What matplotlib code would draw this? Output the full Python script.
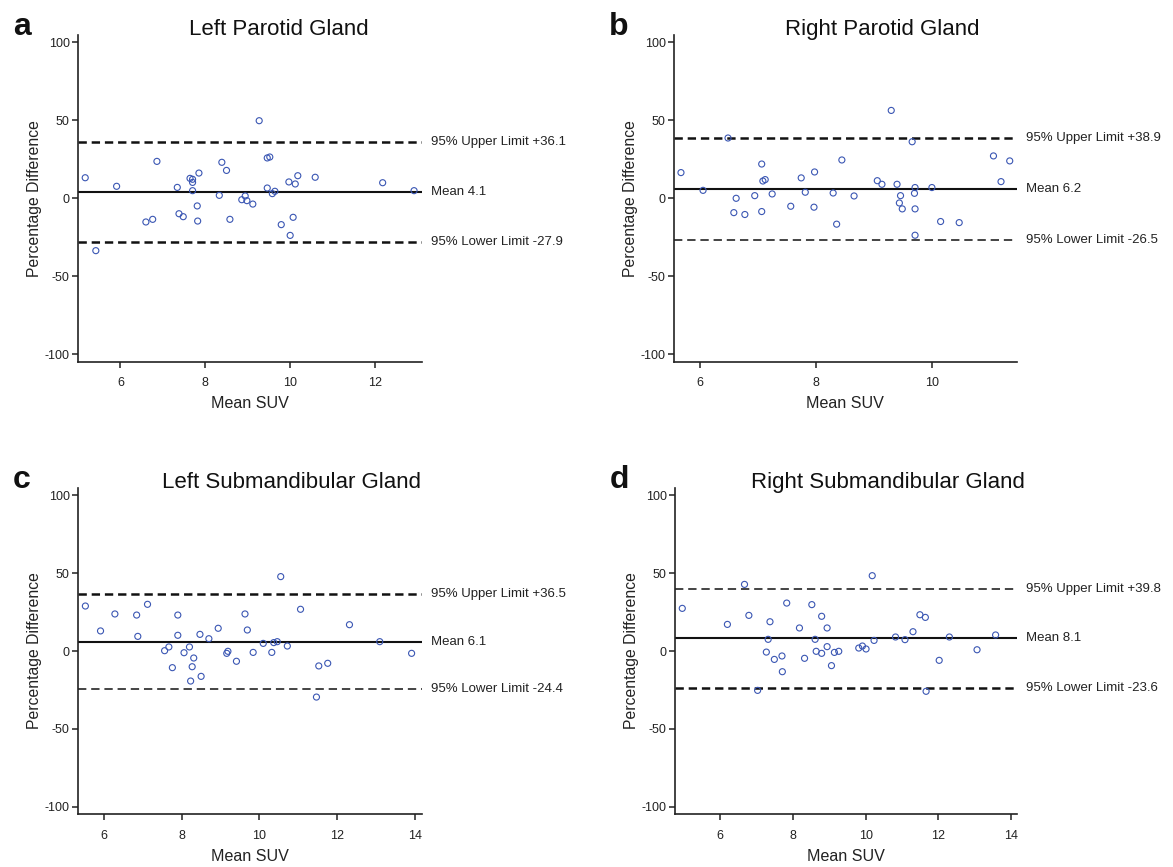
import matplotlib
matplotlib.use("Agg")
import matplotlib.pyplot as plt
import matplotlib.transforms as mtransforms

plt.rcParams["font.family"] = ["Liberation Sans", "DejaVu Sans"]
plt.rcParams["lines.scale_dashes"] = False
plt.rcParams["axes.unicode_minus"] = False

# ──────────────────────────────────────────────────────────────
# Data
# ──────────────────────────────────────────────────────────────

TITLES = ["Left Parotid Gland", "Right Parotid Gland",
          "Left Submandibular Gland", "Right Submandibular Gland"]
LETTERS = ["a", "b", "c", "d"]

lp_x = [5.17, 5.42, 5.91, 6.60, 6.76, 6.86, 7.34, 7.38, 7.48, 7.64, 7.70, 7.70, 7.70,
        7.81, 7.85, 7.82, 8.33, 8.39, 8.50, 8.58, 8.86, 8.94, 8.98, 9.12, 9.27, 9.46,
        9.52, 9.46, 9.58, 9.64, 9.79, 9.97, 10.00, 10.07, 10.12, 10.18, 10.59, 12.18, 12.92]
lp_y = [13.2, -33.6, 7.7, -15.2, -13.5, 23.7, 7.0, -9.9, -11.8, 12.8, 12.2, 10.2, 4.9,
        -4.9, 16.2, -14.6, 1.9, 23.1, 17.9, -13.5, -0.9, 1.5, -1.5, -3.7, 49.8, 25.9,
        26.5, 6.6, 3.0, 4.5, -16.9, 10.5, -23.8, -12.2, 9.2, 14.5, 13.5, 10.0, 4.9]

rp_x = [5.68, 6.06, 6.49, 6.59, 6.63, 6.78, 6.95, 7.07, 7.07, 7.09, 7.13, 7.25, 7.57,
        7.75, 7.82, 7.98, 7.97, 8.30, 8.36, 8.45, 8.66, 9.06, 9.14, 9.30, 9.40, 9.46,
        9.44, 9.49, 9.66, 9.71, 9.70, 9.71, 9.71, 10.00, 10.15, 10.47, 11.06, 11.19, 11.34]
rp_y = [16.5, 5.1, 38.7, -9.2, 0.0, -10.4, 1.7, 22.0, -8.5, 11.1, 12.0, 2.8, -5.1,
        13.1, 3.9, 16.9, -5.7, 3.4, -16.6, 24.6, 1.5, 11.3, 9.0, 56.4, 9.0, 1.7,
        -3.0, -6.8, 36.3, 6.9, 3.2, -6.8, -23.7, 6.9, -14.9, -15.6, 27.2, 10.7, 24.0]

ls_x = [5.52, 5.91, 6.28, 6.84, 6.87, 7.12, 7.56, 7.67, 7.76, 7.90, 7.90, 8.06, 8.20,
        8.31, 8.27, 8.23, 8.47, 8.50, 8.70, 8.94, 9.16, 9.19, 9.41, 9.63, 9.69, 9.84,
        10.10, 10.32, 10.37, 10.46, 10.55, 10.72, 11.06, 11.47, 11.53, 11.76, 12.32, 13.10, 13.92]
ls_y = [28.9, 12.9, 23.8, 23.1, 9.4, 30.0, 0.2, 2.6, -10.7, 23.1, 10.1, -1.1, 2.6,
        -4.5, -10.1, -19.3, 10.7, -16.3, 7.9, 14.6, -1.5, -0.2, -6.6, 23.8, 13.5, -0.9,
        4.9, -0.9, 5.4, 6.0, 47.8, 3.2, 26.8, -29.6, -9.6, -7.9, 16.9, 6.0, -1.5]

rs_x = [4.96, 6.20, 6.67, 6.79, 7.03, 7.27, 7.32, 7.37, 7.49, 7.70, 7.71, 7.83, 8.18,
        8.32, 8.52, 8.61, 8.64, 8.79, 8.79, 8.94, 8.94, 9.06, 9.14, 9.26, 9.81, 9.91,
        10.01, 10.18, 10.23, 10.82, 11.08, 11.30, 11.49, 11.64, 11.66, 12.02, 12.30, 13.06, 13.57]
rs_y = [27.4, 17.1, 42.8, 22.9, -25.3, -0.7, 7.5, 18.8, -5.4, -3.2, -13.3, 30.8, 14.8,
        -4.7, 29.8, 7.5, -0.2, 22.3, -1.5, 14.8, 2.8, -9.4, -0.9, -0.2, 1.9, 3.2,
        1.3, 48.4, 6.8, 9.0, 7.3, 12.4, 23.3, 21.6, -25.9, -6.0, 9.0, 0.8, 10.3]

MEANS = [4.1, 6.2, 6.1, 8.1]
UPPER = [36.1, 38.9, 36.5, 39.8]
LOWER = [-27.9, -26.5, -24.4, -23.6]

XLIMS = [(5.0, 13.1), (5.56, 11.46), (5.33, 14.18), (4.76, 14.15)]
XTICKS = [[6, 8, 10, 12], [6, 8, 10], [6, 8, 10, 12, 14], [6, 8, 10, 12, 14]]
YTICKS = [-100, -50, 0, 50, 100]

# ──────────────────────────────────────────────────────────────
# Layout / style
# ──────────────────────────────────────────────────────────────

W, H = 1173, 867
# axes boxes in pixels: left, top, right, bottom
BOXES = [(78, 34.7, 421.7, 361.9), (674, 34.7, 1016.7, 361.9),
         (78, 487.6, 421.7, 814.4), (675, 487.6, 1016.7, 814.4)]
TITLE_X = [0.585, 0.607, 0.621, 0.623]
# line widths for (upper, lower) dashed limits
LIMIT_LW = [(1.8, 1.8), (1.8, 1.1), (1.8, 1.1), (1.1, 1.8)]

POINT_COLOR = "#3a56b3"
DASH = (0, (6, 3.5))

fig = plt.figure(figsize=(W / 100, H / 100), dpi=100)

series = [(lp_x, lp_y), (rp_x, rp_y), (ls_x, ls_y), (rs_x, rs_y)]

for i, (xs, ys) in enumerate(series):
    l, t, r, b = BOXES[i]
    ax = fig.add_axes([l / W, 1 - b / H, (r - l) / W, (b - t) / H])

    ax.scatter(xs, ys, s=19, facecolors="none", edgecolors=POINT_COLOR,
               linewidths=0.8, zorder=3)

    ax.axhline(MEANS[i], color="#111111", lw=1.5, zorder=2)
    ax.axhline(UPPER[i], color="#111111", lw=LIMIT_LW[i][0], ls=DASH, zorder=2)
    ax.axhline(LOWER[i], color="#111111", lw=LIMIT_LW[i][1], ls=DASH, zorder=2)

    trans = mtransforms.blended_transform_factory(ax.transAxes, ax.transData)
    labels = [(UPPER[i], f"95% Upper Limit +{UPPER[i]:.1f}"),
              (MEANS[i], f"Mean {MEANS[i]:.1f}"),
              (LOWER[i], f"95% Lower Limit {LOWER[i]:.1f}")]
    for yv, txt in labels:
        ax.annotate(txt, xy=(1, yv), xycoords=trans, xytext=(7, 0),
                    textcoords="offset points", ha="left", va="center",
                    fontsize=9.5, color="#222222", annotation_clip=False)

    ax.set_xlim(*XLIMS[i])
    ax.set_ylim(-105, 105)
    ax.set_xticks(XTICKS[i])
    ax.set_yticks(YTICKS)

    for side in ("top", "right"):
        ax.spines[side].set_visible(False)
    for side in ("left", "bottom"):
        ax.spines[side].set_linewidth(1.2)
        ax.spines[side].set_color("#222222")
    ax.tick_params(direction="out", length=4, width=1.1, labelsize=9,
                   colors="#222222")
    ax.tick_params(axis="x", pad=7)
    ax.tick_params(axis="y", pad=2)

    ax.set_xlabel("Mean SUV", fontsize=11.6, color="#222222", labelpad=5)
    ax.set_ylabel("Percentage Difference", fontsize=11.3, color="#222222",
                  labelpad=2)

    ax.text(TITLE_X[i], 1.0, TITLES[i], transform=ax.transAxes, ha="center",
            va="baseline", fontsize=16, color="#111111")
    ax.text(-0.19, 1.0, LETTERS[i], transform=ax.transAxes, ha="left",
            va="baseline", fontsize=23, fontweight="bold", color="#111111")

fig.savefig("out.png", dpi=100)
